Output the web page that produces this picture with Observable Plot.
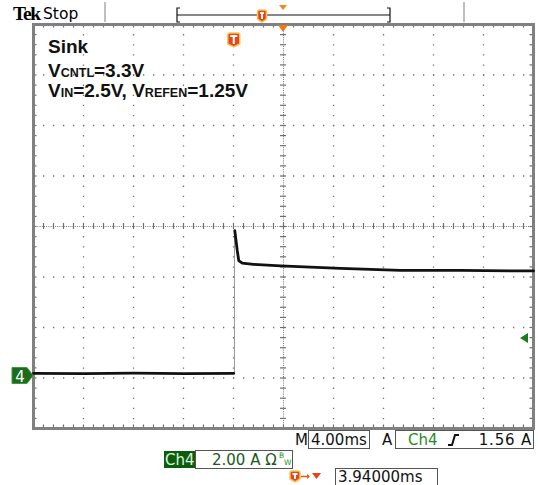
<!DOCTYPE html>
<html><head><meta charset="utf-8">
<script src="https://cdn.jsdelivr.net/npm/d3@7"></script>
<script src="https://cdn.jsdelivr.net/npm/@observablehq/plot@0.6"></script>
<style>
body{margin:0;background:#fff;}
#wrap{position:relative;width:538px;height:485px;overflow:hidden;}
</style></head><body><div id="wrap"></div>
<script>
// Time in ms relative to the trigger, current in A (Ch4, 2.00 A/div, 4.00 ms/div)
const timePerDiv = 4;
const ampsPerDiv = 2;
const triggerDelay = 3.94;
const triggerLevel = 1.56;
const xDomain = [-16.06, 23.94];
const yDomain = [-2, 14];
const xGrid = [-12.06, -8.06, -4.06, -0.06, 7.94, 11.94, 15.94, 19.94];
const yGrid = [0, 2, 4, 8, 10, 12];
const xCenter = 3.94;
const yCenter = 6;

// waveform before the step (ms, A)
const lowTime = [-16.06, -12, -8, -4, -0.04];
const lowAmps = [0.18, 0.17, 0.19, 0.17, 0.18];
// waveform after the step (ms, A)
const highTime = [0.04, 0.14, 0.24, 0.36, 0.64, 1.54, 3.7, 8.5, 13.3, 18.1, 23.7, 23.94];
const highAmps = [5.84, 5.45, 5.05, 4.65, 4.55, 4.50, 4.44, 4.34, 4.26, 4.26, 4.24, 4.24];
const stepTime = 0.02;

const lowData = lowTime.map((t, i) => ({t, a: lowAmps[i]}));
const highData = highTime.map((t, i) => ({t, a: highAmps[i]}));
const xMinor = d3.range(1, 50).map(i => xDomain[0] + i * timePerDiv / 5);
const yMinor = d3.range(1, 40).map(i => yDomain[0] + i * ampsPerDiv / 5);

const gridC = "#707070";
const plot = Plot.plot({
  width: 538, height: 485,
  marginLeft: 33, marginRight: 5, marginTop: 24, marginBottom: 57,
  x: {domain: xDomain, axis: null},
  y: {domain: yDomain, axis: null},
  style: {background: "transparent", overflow: "visible"},
  marks: [
    Plot.ruleX(xGrid, {stroke: gridC, strokeWidth: 1.3, strokeDasharray: "1.3,8.8"}),
    Plot.ruleY(yGrid, {stroke: gridC, strokeWidth: 1.3, strokeDasharray: "1.3,8.7"}),
    Plot.ruleX([xCenter], {stroke: "#777", strokeWidth: 1, strokeDasharray: "1,1.2"}),
    Plot.ruleY([yCenter], {stroke: "#777", strokeWidth: 1, strokeDasharray: "1,1.2"}),
    Plot.ruleX(xMinor, {y1: yCenter - 0.12, y2: yCenter + 0.12, stroke: gridC, strokeWidth: 1.2}),
    Plot.ruleY(yMinor, {x1: xCenter - 0.24, x2: xCenter + 0.24, stroke: gridC, strokeWidth: 1.2}),
    Plot.ruleX(xMinor, {y1: yDomain[0], y2: yDomain[0] + 0.14, stroke: gridC, strokeWidth: 1.2}),
    Plot.ruleX(xMinor, {y1: yDomain[1] - 0.14, y2: yDomain[1], stroke: gridC, strokeWidth: 1.2}),
    Plot.ruleY(yMinor, {x1: xDomain[0], x2: xDomain[0] + 0.28, stroke: gridC, strokeWidth: 1.2}),
    Plot.ruleY(yMinor, {x1: xDomain[1] - 0.28, x2: xDomain[1], stroke: gridC, strokeWidth: 1.2}),
    Plot.frame({stroke: "#808080", strokeWidth: 3}),
    Plot.ruleX([stepTime], {y1: lowAmps[lowAmps.length - 1], y2: highAmps[0], stroke: "#9a9a9a", strokeWidth: 1}),
    Plot.line(lowData, {x: "t", y: "a", stroke: "#111", strokeWidth: 2.8}),
    Plot.line(highData, {x: "t", y: "a", stroke: "#111", strokeWidth: 2.8})
  ]
});
document.getElementById("wrap").appendChild(plot);

const X = plot.scale("x"), Y = plot.scale("y");
const DEJA = "'DejaVu Sans',sans-serif";
const SANS = "'Liberation Sans',Arial,sans-serif";
const svg = d3.select(plot).append("g").attr("text-anchor", "start").attr("font-family", DEJA);

function tIcon(g, cx, top, w, h) {
  const grp = g.append("g");
  grp.append("path")
    .attr("d", `M${cx - w/2},${top + 2} Q${cx - w/2},${top} ${cx - w/2 + 2},${top} L${cx + w/2 - 2},${top} Q${cx + w/2},${top} ${cx + w/2},${top + 2} L${cx + w/2},${top + h - 3} L${cx},${top + h} L${cx - w/2},${top + h - 3} Z`)
    .attr("fill", "#e5461a").attr("stroke", "#f6c458").attr("stroke-width", 1.5);
  grp.append("path")
    .attr("d", `M${cx - w/2 + 2.5},${top + 3} L${cx + w/2 - 2.5},${top + 3} M${cx},${top + 3} L${cx},${top + h - 3}`)
    .attr("stroke", "#fff").attr("stroke-width", 2).attr("fill", "none");
}

// trigger markers in the graticule
tIcon(svg, X.apply(0), 33, 12, 14);
const xc = X.apply(xCenter);
svg.append("path").attr("d", `M${xc - 5},25 L${xc + 5},25 L${xc},32 Z`).attr("fill", "#ee7a18");

// annotation text
const ann = svg.append("g").attr("font-weight", "bold").attr("fill", "#111").attr("font-family", SANS);
ann.append("text").attr("x", 48).attr("y", 53).attr("font-size", 19).text("Sink");
const l2 = ann.append("text").attr("x", 48).attr("y", 76.5).attr("font-size", 19);
l2.append("tspan").text("V");
l2.append("tspan").attr("font-size", 12.5).text("CNTL");
l2.append("tspan").text("=3.3V");
const l3 = ann.append("text").attr("x", 48).attr("y", 97).attr("font-size", 19);
l3.append("tspan").text("V");
l3.append("tspan").attr("font-size", 12.5).text("IN");
l3.append("tspan").text("=2.5V, V");
l3.append("tspan").attr("font-size", 12.5).text("REFEN");
l3.append("tspan").text("=1.25V");

// ground marker for Ch4
const y0 = Y.apply(0) - 2;
svg.append("path").attr("d", `M12,${y0 - 8} L27,${y0 - 8} L33,${y0} L27,${y0 + 8} L12,${y0 + 8} Z`).attr("fill", "#1d6b1d").attr("stroke", "#3d9a3d");
svg.append("text").attr("x", 20).attr("y", y0 + 6).attr("text-anchor", "middle").attr("font-size", 15).attr("fill", "#fff").text("4");

// trigger level marker
const yt = Y.apply(triggerLevel);
svg.append("path").attr("d", `M520,${yt} L528,${yt - 5} L528,${yt + 5} Z`).attr("fill", "#1d7a1d");

// header
svg.append("text").attr("x", 13).attr("y", 20).attr("font-family", "'Liberation Serif',serif").attr("font-weight", "bold").attr("font-size", 19.5).attr("letter-spacing", -1.3).attr("fill", "#000").text("Tek");
svg.append("text").attr("x", 43).attr("y", 19).attr("font-size", 15.5).attr("fill", "#000").text("Stop");
svg.append("line").attr("x1", 105).attr("x2", 105).attr("y1", 2).attr("y2", 22).attr("stroke", "#aaa").attr("stroke-width", 1.5);
svg.append("line").attr("x1", 464).attr("x2", 464).attr("y1", 2).attr("y2", 22).attr("stroke", "#aaa").attr("stroke-width", 1.5);
svg.append("path").attr("d", "M180,8 L177,8 L177,22 L180,22 M177,15 L390,15 M387,8 L390,8 L390,22 L387,22").attr("stroke", "#111").attr("fill", "none").attr("stroke-width", 1.2);
tIcon(svg, 262, 10, 9, 12);
svg.append("path").attr("d", `M${xc - 4},5 L${xc + 4},5 L${xc},10 Z`).attr("fill", "#ee8a18");

// footer
const ft = svg.append("g").attr("font-size", 15);
ft.append("text").attr("x", 295).attr("y", 445).attr("fill", "#111").text("M");
ft.append("rect").attr("x", 308.5).attr("y", 430.5).attr("width", 61).attr("height", 18).attr("fill", "none").attr("stroke", "#555");
ft.append("text").attr("x", 311).attr("y", 445).attr("fill", "#111").text("4.00ms");
ft.append("text").attr("x", 382).attr("y", 445).attr("fill", "#111").text("A");
ft.append("rect").attr("x", 395.5).attr("y", 430.5).attr("width", 138).attr("height", 18).attr("fill", "none").attr("stroke", "#555");
ft.append("text").attr("x", 408).attr("y", 445).attr("fill", "#2a8a2a").text("Ch4");
ft.append("path").attr("d", "M448,445 L452,445 L455,435 L459,435").attr("stroke", "#111").attr("stroke-width", 2).attr("fill", "none");
ft.append("text").attr("x", 532).attr("y", 445).attr("text-anchor", "end").attr("letter-spacing", 0.8).attr("fill", "#111").text("1.56 A");

ft.append("rect").attr("x", 164).attr("y", 451).attr("width", 31).attr("height", 17).attr("fill", "#0d5c0d");
ft.append("text").attr("x", 165).attr("y", 465).attr("fill", "#d8f5d8").text("Ch4");
ft.append("rect").attr("x", 195.5).attr("y", 450.5).attr("width", 97).attr("height", 18).attr("fill", "none").attr("stroke", "#555");
ft.append("text").attr("x", 212).attr("y", 465).attr("fill", "#1a5a1a").text("2.00 A Ω");
ft.append("text").attr("x", 279).attr("y", 458).attr("font-size", 7.5).attr("fill", "#2a8a2a").text("B");
ft.append("text").attr("x", 284).attr("y", 465).attr("font-size", 7.5).attr("fill", "#2a8a2a").text("W");

tIcon(svg, 295, 471, 10, 11);
svg.append("path").attr("d", "M301,476.5 L309,476.5").attr("stroke", "#ee5a18").attr("stroke-width", 1.5);
svg.append("path").attr("d", "M307,474 L310,476.5 L307,479 Z").attr("fill", "#ee5a18");
svg.append("path").attr("d", "M312,473 L321,473 L316.5,479 Z").attr("fill", "#e8401a");
ft.append("rect").attr("x", 335.5).attr("y", 468.5).attr("width", 102).attr("height", 17).attr("fill", "none").attr("stroke", "#555");
ft.append("text").attr("x", 338).attr("y", 482).attr("fill", "#111").text("3.94000ms");
</script></body></html>
